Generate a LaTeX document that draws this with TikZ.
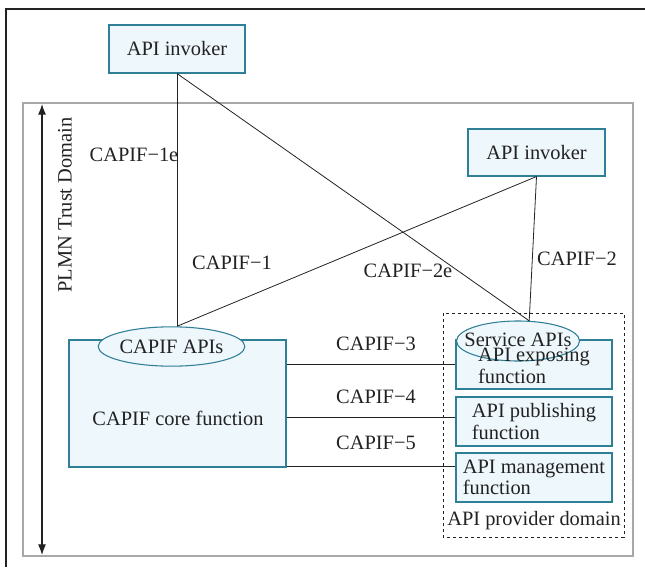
\documentclass[tikz,border=0pt]{standalone}
\usepackage{fontspec}
\setmainfont{Liberation Serif}
\newfontfamily\capfont{Liberation Serif}
\usepackage{xcolor}
\usetikzlibrary{arrows.meta, positioning, calc, shapes.geometric}
\definecolor{capFill}{HTML}{EEF7FC}
\definecolor{capEdge}{HTML}{2F7F96}
\definecolor{capGray}{HTML}{A8A8A8}
\definecolor{capDark}{HTML}{222222}

\begin{document}
\begin{tikzpicture}[x=0.75pt,y=-0.75pt,
  every node/.style={font=\capfont\fontsize{15.3}{16}\selectfont,text=capDark,inner sep=0pt},
  fnbox/.style={draw=capEdge,fill=capFill,line width=0.8pt},
  apioval/.style={ellipse,draw=capEdge,fill=capFill,line width=0.8pt,minimum width=92pt,minimum height=29.5pt},
  link/.style={capDark,line width=0.6pt}]
\useasboundingbox (0,0) rectangle (645,567);
% frames
\draw[capDark,line width=0.9pt] (6,567) -- (6,9) -- (645,9);
\draw[capGray,line width=0.8pt] (23,103) rectangle (633,556);
\coordinate (trustTop) at (42,104);
\coordinate (trustBot) at (42,555);
\draw[capDark,line width=0.8pt,{Latex[length=8pt,width=6pt]}-{Latex[length=8pt,width=6pt]}] (trustTop) -- (trustBot);
\node[rotate=90] (trustlbl) at (65,205) {PLMN Trust Domain};
% invokers
\node[fnbox,minimum width=102pt,minimum height=36pt] (inv1) at (177,49) {API invoker};
\node[fnbox,minimum width=102.75pt,minimum height=35.25pt] (inv2) at (536.5,152.5) {API invoker};
% CAPIF core
\node[fnbox,minimum width=162.75pt,minimum height=95.25pt] (core) at (177.5,403.5) {};
\node (coretxt) at (178,418) {CAPIF core function};
\node[apioval] (capifapi) at (171.5,346.5) {CAPIF APIs};
% API provider domain
\draw[capDark,line width=0.6pt,dash pattern=on 2.5pt off 2pt] (443,313) rectangle (624,537);
\node (provtxt) at (534,521) {API provider domain};
\node[fnbox,minimum width=117pt,minimum height=36.75pt] (expo) at (534,364.5) {};
\node[fnbox,minimum width=117pt,minimum height=36.75pt,align=left] (publ) at (534,421.5) {API publishing\\function};
\node[fnbox,minimum width=117pt,minimum height=36.75pt,align=left] (mgmt) at (534,477.5) {API management\\function};
\node[apioval,minimum width=92.25pt,minimum height=30pt] (servapi) at (518,341) {};
\node[align=left] (expotxt) at (534,366) {API exposing\\function};
\node (servtxt) at (518,340) {Service APIs};
% reference points
\draw[link] (inv1.south) -- (inv1.south |- capifapi.north);
\draw[link] (inv1.south) -- (servapi.61);
\draw[link] (inv2.south) -- (servapi.61);
\draw[link] (inv2.south) -- (inv1.south |- capifapi.north);
\draw[link] (expo.west -| core.east) -- (expo.west);
\draw[link] (core.east |- publ.177) -- (publ.177);
\draw[link] (core.east |- mgmt.172) -- (mgmt.172);
\node (ref1e) at (134,155) {CAPIF−1e};
\node (ref1) at (232,263) {CAPIF−1};
\node (ref2e) at (408,271) {CAPIF−2e};
\node (ref2) at (577,259) {CAPIF−2};
\node (ref3) at (376,344) {CAPIF−3};
\node (ref4) at (376,397) {CAPIF−4};
\node (ref5) at (376,443) {CAPIF−5};
\end{tikzpicture}
\end{document}
